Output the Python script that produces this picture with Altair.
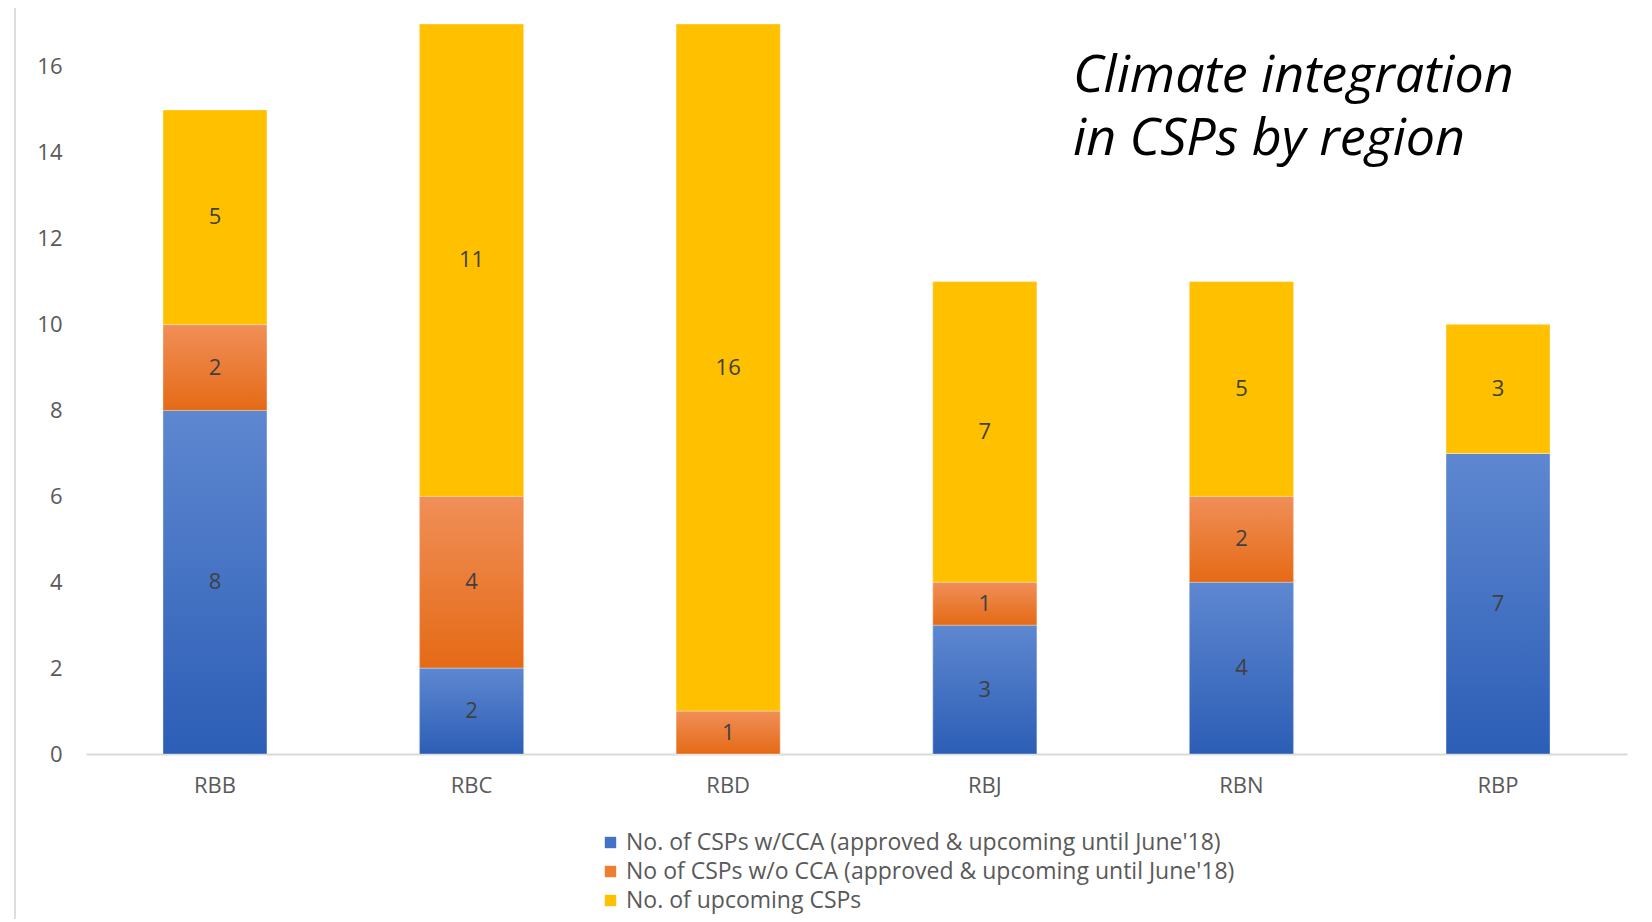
import altair as alt
import pandas as pd

regions = ["RBB", "RBC", "RBD", "RBJ", "RBN", "RBP"]
series_names = [
    "No. of CSPs w/CCA (approved & upcoming until June'18)",
    "No of CSPs w/o CCA (approved & upcoming until June'18)",
    "No. of upcoming CSPs",
]
with_cca = [8, 2, 0, 3, 4, 7]
without_cca = [2, 4, 1, 1, 2, 0]
upcoming = [5, 11, 16, 7, 5, 3]
y_ticks = [0, 2, 4, 6, 8, 10, 12, 14, 16]
title_lines = ["Climate integration", "in CSPs by region"]

legend_colors = ["#4472C4", "#ED7D31", "#FFC000"]
gradients = [
    ("#5E87D0", "#2C5EB6"),
    ("#F08F58", "#E56A16"),
    ("#FFC000", "#FFC000"),
]

rows = []
for i, r in enumerate(regions):
    for k, vals in enumerate([with_cca, without_cca, upcoming]):
        rows.append({"region": r, "series": series_names[k], "value": vals[i], "order": k})
df = pd.DataFrame(rows)

base = alt.Chart(df).transform_stack(
    stack="value", groupby=["region"], as_=["y0", "y1"],
    sort=[alt.SortField("order", order="ascending")],
).transform_calculate(mid="(datum.y0 + datum.y1) / 2")

x_enc = alt.X(
    "region:N", sort=regions,
    scale=alt.Scale(paddingInner=0.595, paddingOuter=0.3),
    axis=alt.Axis(title=None, labelAngle=0, domain=True, domainColor="#D9D9D9",
                  domainWidth=2, ticks=False, labelFont="Open Sans", labelFontSize=22,
                  labelColor="#595959", labelPadding=21),
)
y_enc = alt.Y(
    "y1:Q",
    scale=alt.Scale(domain=[0, 17], nice=False),
    axis=alt.Axis(title=None, values=y_ticks, grid=False, domain=False, ticks=False,
                  labelFont="Open Sans", labelFontSize=22, labelColor="#595959",
                  labelPadding=24),
)

legend_layer = base.mark_bar().encode(
    x=x_enc, y=y_enc, y2="y0:Q",
    color=alt.Color(
        "series:N",
        scale=alt.Scale(domain=series_names, range=legend_colors),
        legend=alt.Legend(
            title=None, orient="none", legendX=513, legendY=807, symbolType="square",
            symbolSize=130, symbolStrokeWidth=0, labelFont="Open Sans", labelFontSize=23,
            labelColor="#595959", rowPadding=5, labelLimit=1000, symbolOffset=0,
        ),
    ),
)

layers = [legend_layer]
for k, s in enumerate(series_names):
    top, bottom = gradients[k]
    grad = alt.Gradient(
        gradient="linear", x1=0, y1=0, x2=0, y2=1,
        stops=[alt.GradientStop(color=top, offset=0), alt.GradientStop(color=bottom, offset=1)],
    )
    layers.append(
        base.transform_filter(alt.datum.series == s).mark_bar(
            fill=grad, stroke="#FFFFFF", strokeOpacity=0.35, strokeWidth=1
        ).encode(x=x_enc, y=y_enc, y2="y0:Q")
    )

labels = base.transform_filter(alt.datum.value > 0).mark_text(
    font="Open Sans", fontSize=22, color="#404040", baseline="middle", align="center"
).encode(x=x_enc, y=alt.Y("mid:Q"), text="value:Q")
layers.append(labels)

frame = alt.Chart(pd.DataFrame({"frame": [0]})).mark_rule(
    color="#DADDE2", strokeWidth=2
).encode(x=alt.value(-71), y=alt.value(-16), y2=alt.value(895))
layers.append(frame)

title = alt.Chart(pd.DataFrame({"t": [0]})).mark_text(
    font="Open Sans", fontSize=52, fontStyle="italic", color="#000000",
    align="left", baseline="alphabetic", lineHeight=63,
).encode(x=alt.value(987), y=alt.value(68), text=alt.value(title_lines))
layers.append(title)

chart = alt.layer(*layers).properties(
    width=1541, height=730,
    autosize=alt.AutoSizeParams(type="none"),
    padding={"left": 78, "top": 16, "right": 12, "bottom": 165},
).configure_view(stroke=None)

chart.save("out.html", embed_options={"renderer": "svg", "actions": False})
